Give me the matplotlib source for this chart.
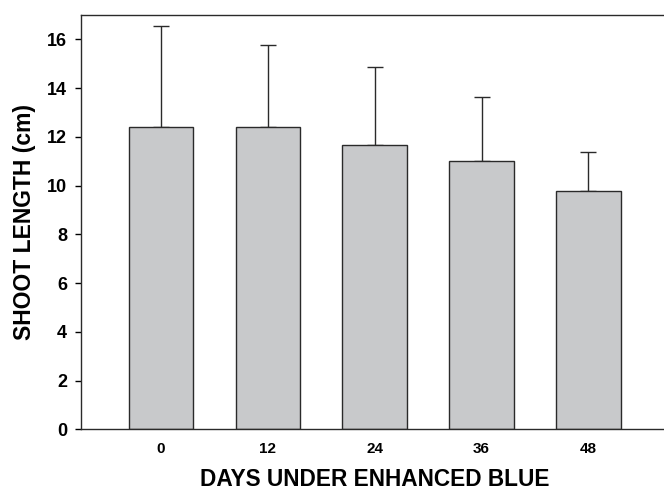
import numpy as np
from matplotlib import pyplot as plt

plt.rcParams['font.family'] = ['Liberation Sans', 'DejaVu Sans']
plt.rcParams['font.weight'] = 'bold'

days = ['0', '12', '24', '36', '48']
shoot_length = [12.40, 12.40, 11.65, 11.02, 9.79]
err_top = [16.54, 15.75, 14.85, 13.62, 11.39]
err = [t - m for t, m in zip(err_top, shoot_length)]

fig = plt.figure(figsize=(6.64, 4.94), dpi=100)
ax = fig.add_axes([0.122, 0.1306, 0.885, 0.839])

x = np.arange(len(days))
ax.bar(x, shoot_length, width=0.6, color='#c8c9cb', edgecolor='#2a2a2a', linewidth=1.0, zorder=2)
ax.errorbar(x, shoot_length, yerr=[np.zeros(len(err)), err], fmt='none',
            ecolor='#2a2a2a', elinewidth=1.0, capsize=6, capthick=1.0, zorder=1)

ax.set_xlim(-0.745, 4.75)
ax.set_ylim(0, 17)
ax.set_yticks(range(0, 17, 2))
ax.set_xticks(x)
ax.set_xticklabels(days, fontsize=11, fontweight='bold')
ax.tick_params(axis='x', length=0, pad=9)
ax.tick_params(axis='y', labelsize=13, length=4, width=1, direction='out', pad=6)
for lab in ax.get_yticklabels():
    lab.set_fontweight('bold')
for s in ['left', 'bottom', 'top']:
    ax.spines[s].set_linewidth(1.0)
    ax.spines[s].set_color('#2a2a2a')
ax.spines['right'].set_visible(False)

ax.set_xlabel('DAYS UNDER ENHANCED BLUE', fontsize=16.3, fontweight='bold', labelpad=9)
ax.set_ylabel('SHOOT LENGTH (cm)', fontsize=16.5, fontweight='bold', labelpad=8)

fig.savefig('out.png', dpi=100)
